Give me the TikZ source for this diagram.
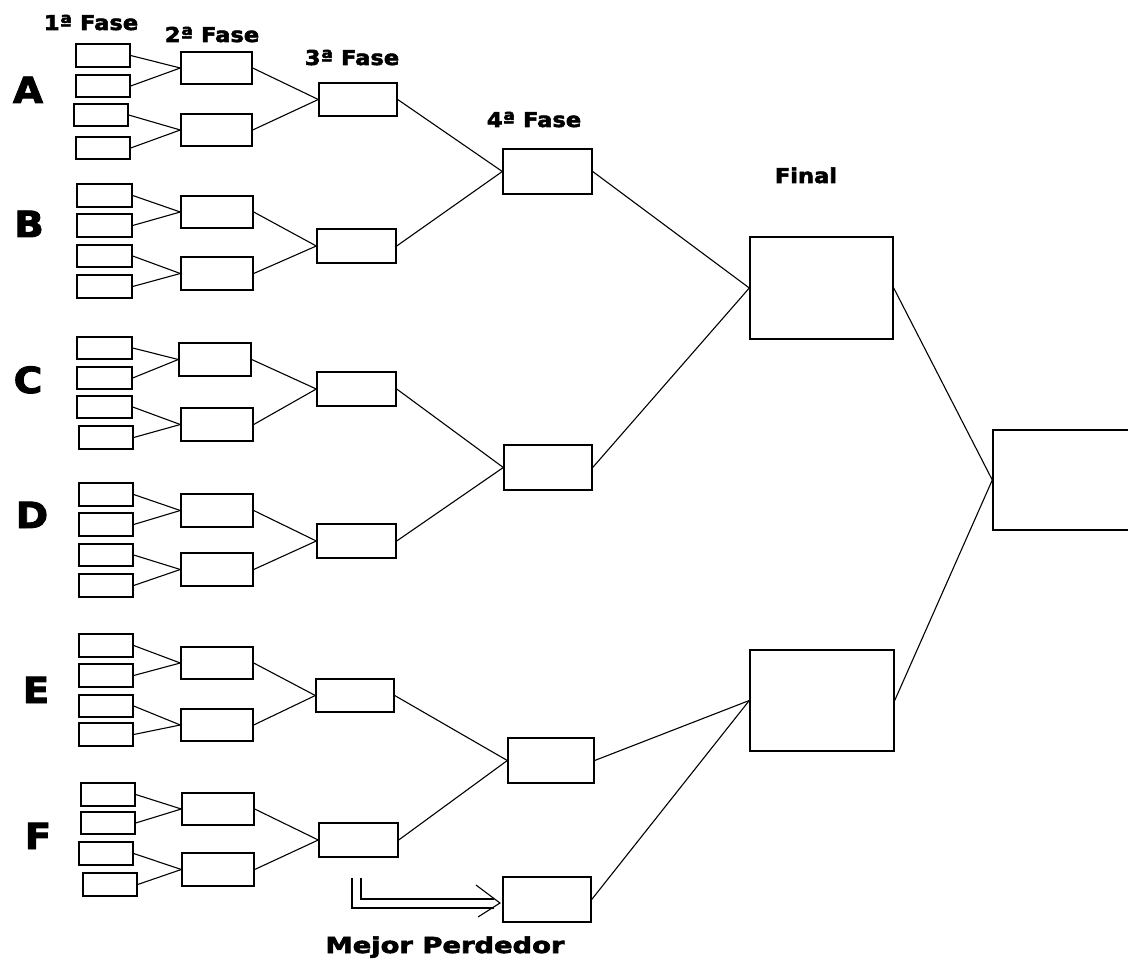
\documentclass[tikz,border=0pt]{standalone}
\usepackage{fontspec}
\newfontfamily\lblfont[FakeBold=2.5]{DejaVu Sans Bold}
\usetikzlibrary{fit}
\newcommand\bxn[3]{\node[bx, fit={#2 #3}] (#1) {};}
\begin{document}
\begin{tikzpicture}[x=1pt,y=-1pt,
 bx/.style={draw, inner sep=0pt, line width=1.4pt},
 ln/.style={line width=1.1pt},
 lbl/.style={font=\lblfont\fontsize{20.5}{22}\selectfont, inner sep=0pt, anchor=base, xscale=1.1},
 grp/.style={font=\lblfont\fontsize{36}{36}\selectfont, inner sep=0pt, anchor=base, xscale=1.08}]
\useasboundingbox[fill=white] (0,0) rectangle (1128,960);

% Group A
\bxn{a1}{(76,44)}{(130,67)}
\bxn{a2}{(76,75)}{(130,97)}
\bxn{a3}{(74,104)}{(128,126)}
\bxn{a4}{(76,137)}{(130,159)}
\bxn{a5}{(181,52)}{(252,84)}
\bxn{a6}{(181,114)}{(252,146)}
\bxn{a7}{(319,83)}{(397,116)}
% Group B
\bxn{b1}{(77,184)}{(132,207)}
\bxn{b2}{(77,214)}{(132,237)}
\bxn{b3}{(77,245)}{(132,267)}
\bxn{b4}{(77,275)}{(132,298)}
\bxn{b5}{(181,196)}{(253,228)}
\bxn{b6}{(181,257)}{(253,290)}
\bxn{b7}{(317,229)}{(396,263)}
% Group C
\bxn{c1}{(77,337)}{(132,359)}
\bxn{c2}{(77,367)}{(132,389)}
\bxn{c3}{(77,396)}{(132,418)}
\bxn{c4}{(79,426)}{(133,449)}
\bxn{c5}{(179,343)}{(251,376)}
\bxn{c6}{(181,408)}{(253,441)}
\bxn{c7}{(317,372)}{(396,406)}
% Group D
\bxn{d1}{(79,483)}{(133,506)}
\bxn{d2}{(79,513)}{(133,536)}
\bxn{d3}{(79,544)}{(133,566)}
\bxn{d4}{(79,574)}{(133,597)}
\bxn{d5}{(181,494)}{(253,527)}
\bxn{d6}{(181,553)}{(253,586)}
\bxn{d7}{(317,524)}{(396,558)}
% Group E
\bxn{e1}{(79,634)}{(133,657)}
\bxn{e2}{(79,664)}{(133,687)}
\bxn{e3}{(79,695)}{(133,717)}
\bxn{e4}{(79,723)}{(133,746)}
\bxn{e5}{(181,647)}{(253,679)}
\bxn{e6}{(181,709)}{(253,741)}
\bxn{e7}{(316,679)}{(394,712)}
% Group F
\bxn{f1}{(81,783)}{(135,806)}
\bxn{f2}{(81,812)}{(135,834)}
\bxn{f3}{(79,842)}{(133,865)}
\bxn{f4}{(83,873)}{(137,896)}
\bxn{f5}{(182,793)}{(254,825)}
\bxn{f6}{(182,853)}{(254,886)}
\bxn{f7}{(319,823)}{(398,857)}
% 4a fase
\bxn{qa}{(503,149)}{(592,194)}
\bxn{qb}{(504,445)}{(592,490)}
\bxn{qc}{(508,738)}{(594,783)}
\bxn{mp}{(503,877)}{(591,922)}
% final
\bxn{fa}{(750,237)}{(893,339)}
\bxn{fb}{(750,650)}{(894,751)}
\bxn{ch}{(993,430)}{(1140,530)}

% connectors
\foreach \g in {a,b,c,d,e,f}{
  \draw[ln] (\g1.east) -- (\g5.west);
  \draw[ln] (\g2.east) -- (\g5.west);
  \draw[ln] (\g3.east) -- (\g6.west);
  \draw[ln] (\g4.east) -- (\g6.west);
  \draw[ln] (\g5.east) -- (\g7.west);
  \draw[ln] (\g6.east) -- (\g7.west);
}
\draw[ln] (a7.east) -- (qa.west);
\draw[ln] (b7.east) -- (qa.west);
\draw[ln] (c7.east) -- (qb.west);
\draw[ln] (d7.east) -- (qb.west);
\draw[ln] (e7.east) -- (qc.west);
\draw[ln] (f7.east) -- (qc.west);
\draw[ln] (qa.east) -- (fa.west);
\draw[ln] (qb.east) -- (fa.west);
\draw[ln] (qc.east) -- (fb.west);
\draw[ln] (mp.east) -- (fb.west);
\draw[ln] (fa.east) -- (ch.west);
\draw[ln] (fb.east) -- (ch.west);

% mejor perdedor arrow
\coordinate (o1) at (352,878);
\coordinate (o2) at (352,908);
\coordinate (o3) at (494,908);
\coordinate (i1) at (361,878);
\coordinate (i2) at (361,899);
\coordinate (i3) at (494,899);
\coordinate (tip) at (500,903);
\coordinate (h1) at (476,885);
\coordinate (h2) at (478,917);
\draw[ln] (o1) -- (o2) -- (o3);
\draw[ln] (i1) -- (i2) -- (i3);
\draw[ln] (h1) -- (tip) -- (h2);

% labels
\node[lbl] (l1) at (91,30) {1ª Fase};
\node[lbl] (l2) at (212,42) {2ª Fase};
\node[lbl] (l3) at (352,65) {3ª Fase};
\node[lbl] (l4) at (534,127) {4ª Fase};
\node[lbl] (l5) at (806,183) {Final};
\node[lbl, font=\lblfont\fontsize{22}{24}\selectfont, xscale=1.13] (l6) at (445,953) {Mejor Perdedor};
\node[grp] (gA) at (28,103) {A};
\node[grp] (gB) at (29,237) {B};
\node[grp] (gC) at (28,393) {C};
\node[grp] (gD) at (32,528) {D};
\node[grp] (gE) at (36,703) {E};
\node[grp] (gF) at (38,849) {F};
\end{tikzpicture}
\end{document}
